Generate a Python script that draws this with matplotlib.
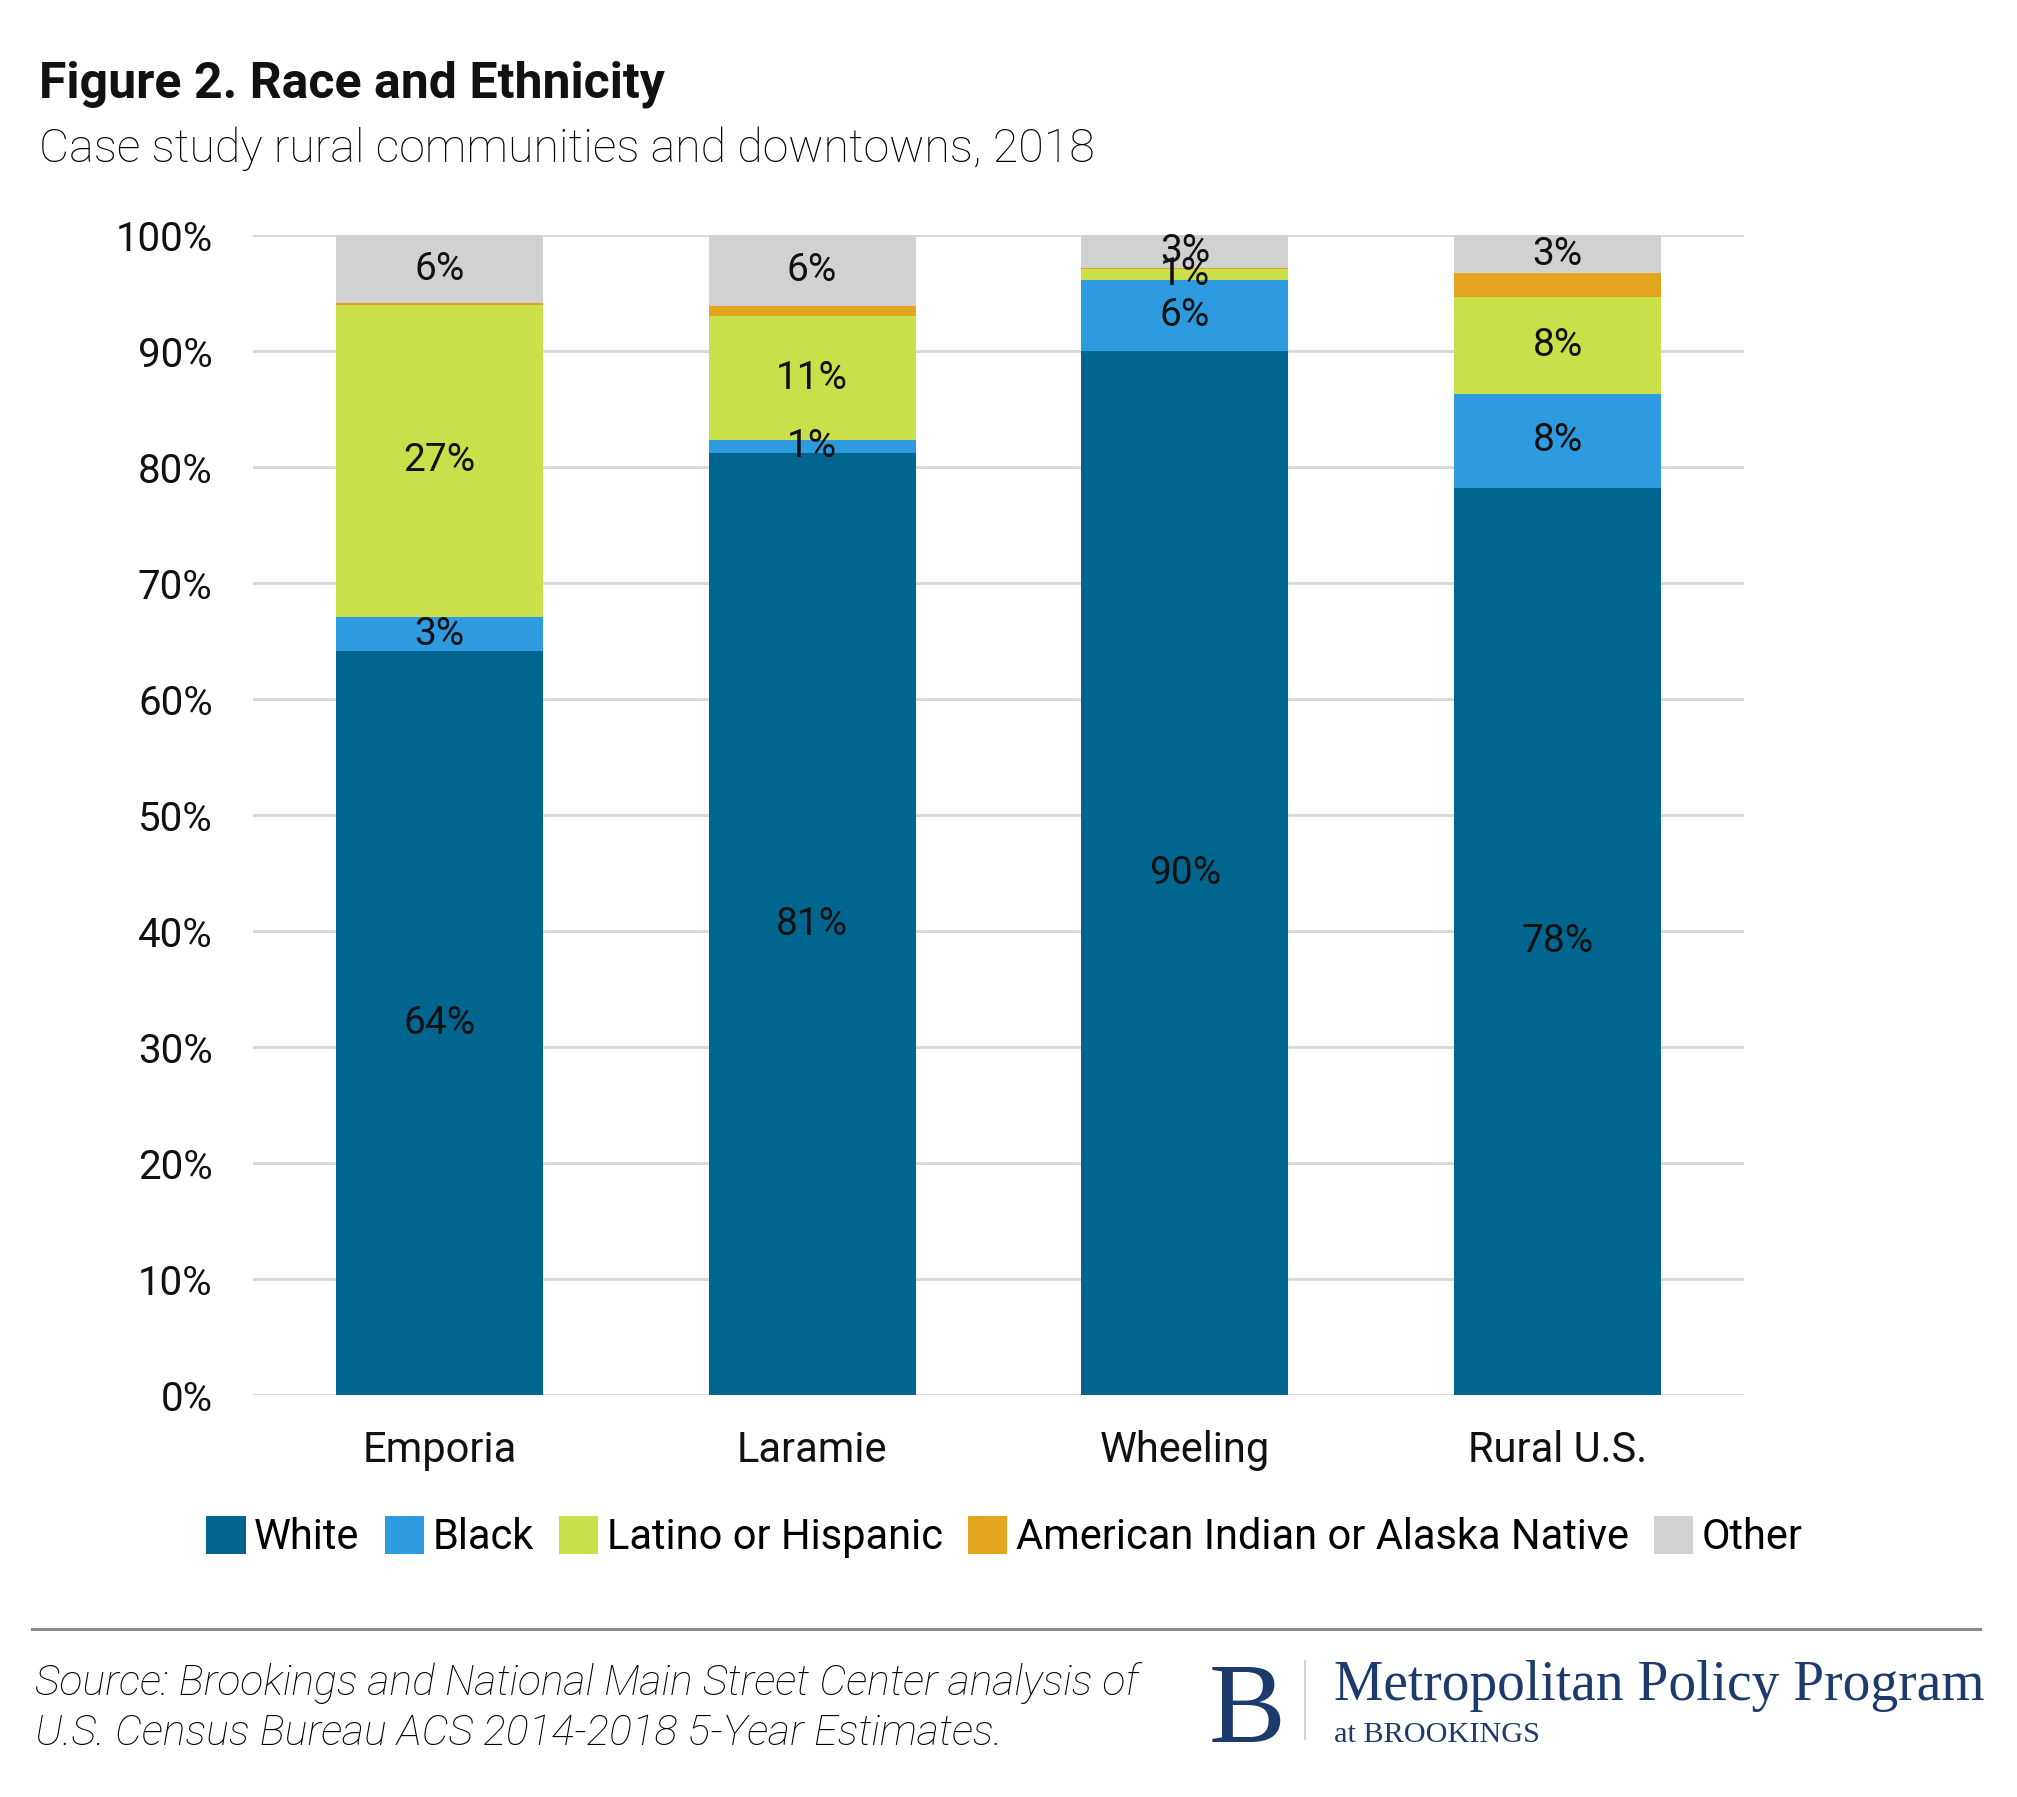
import matplotlib.pyplot as plt
from matplotlib.lines import Line2D
from matplotlib.patches import Patch
import numpy as np

places = ["Emporia", "Laramie", "Wheeling", "Rural U.S."]
groups = ["White", "Black", "Latino or Hispanic", "American Indian or Alaska Native", "Other"]
white = [64.1, 81.2, 90.0, 78.2]
black = [3.0, 1.1, 6.1, 8.1]
latino = [26.9, 10.7, 1.0, 8.4]
aian = [0.1, 0.9, 0.1, 2.0]
other = [5.9, 6.1, 2.8, 3.3]
label_groups = [True, True, True, False, True]  # AIAN segments are not labelled
colors = ["#00668f", "#2e9be0", "#c9e04a", "#e3a51d", "#d1d1d1"]

plt.rcParams["font.family"] = ["Roboto", "DejaVu Sans"]

fig = plt.figure(figsize=(20.17, 17.97), dpi=100)
ax = fig.add_axes([0.1254, 0.2237, 0.7393, 0.6455])

series = [white, black, latino, aian, other]
x = np.arange(len(places))
bottom = np.zeros(len(places))
for vals, col, show in zip(series, colors, label_groups):
    vals = np.array(vals)
    ax.bar(x, vals, bottom=bottom, width=0.555, color=col, zorder=3)
    if show:
        for xi, b, v in zip(x, bottom, vals):
            ax.text(xi, b + v / 2, f"{round(v):.0f}%", ha="center", va="center",
                    fontsize=28, color="#111111", zorder=4)
    bottom += vals

ax.set_xlim(-0.5, 3.5)
ax.set_ylim(0, 100)
ax.set_yticks(np.arange(0, 101, 10))
ax.set_yticklabels([f"{v}%" for v in range(0, 101, 10)])
ax.set_xticks(x)
ax.set_xticklabels(places)
ax.yaxis.grid(True, color="#d9d9d9", linewidth=2.2, zorder=0)
ax.set_axisbelow(True)
for s in ax.spines.values():
    s.set_visible(False)
ax.tick_params(axis="both", length=0, labelsize=29, colors="#111111")
ax.tick_params(axis="y", pad=29)
ax.tick_params(axis="x", pad=25, labelsize=30)

handles = [Patch(facecolor=c, edgecolor="none") for c in colors]
fig.legend(handles, groups, loc="center", bbox_to_anchor=(0.498, 0.1445), ncol=5,
           frameon=False, fontsize=30, handlelength=0.95, handleheight=1.0,
           handletextpad=0.2, columnspacing=0.6, borderaxespad=0)

fig.text(0.0195, 1 - 98 / 1797, "Figure 2. Race and Ethnicity", fontsize=36,
         fontweight="bold", va="baseline", color="#111111")
fig.text(0.0195, 1 - 162 / 1797, "Case study rural communities and downtowns, 2018",
         fontsize=33.5, fontweight="light", va="baseline", color="#000000")

# footer
fig.add_artist(Line2D([32 / 2017, 1980 / 2017], [1 - 1629 / 1797] * 2,
                      color="#8c8c8c", linewidth=2.2))
fig.text(35 / 2017, 1 - 1695 / 1797,
         "Source: Brookings and National Main Street Center analysis of",
         fontsize=30.8, style="italic", fontweight="light", va="baseline", color="#000000")
fig.text(35 / 2017, 1 - 1745 / 1797,
         "U.S. Census Bureau ACS 2014-2018 5-Year Estimates.",
         fontsize=30.8, style="italic", fontweight="light", va="baseline", color="#000000")

navy = "#1d3a6c"
fig.text(1247 / 2017, 1 - 1742 / 1797, "B", fontsize=83, family="Liberation Serif",
         color=navy, ha="center", va="baseline")
fig.add_artist(Line2D([1305 / 2017] * 2, [1 - 1661 / 1797, 1 - 1739 / 1797],
                      color="#cccccc", linewidth=1.2))
fig.text(1334 / 2017, 1 - 1700 / 1797, "Metropolitan Policy Program", fontsize=40,
         family="Liberation Serif", color=navy, va="baseline")
fig.text(1334 / 2017, 1 - 1742 / 1797, "at BROOKINGS", fontsize=21.8,
         family="Liberation Serif", color=navy, va="baseline")

fig.savefig("out.png", dpi=100)
plt.close(fig)
